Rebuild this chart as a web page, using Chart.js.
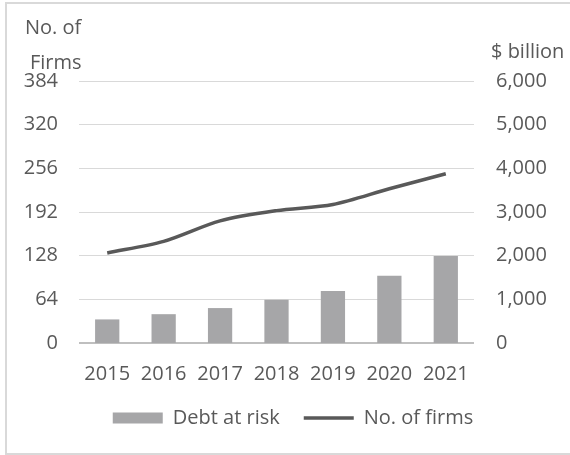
<!DOCTYPE html>
<html lang="en">
<head>
  <meta charset="UTF-8" />
  <title>Debt at risk and number of firms</title>
  <script src="https://cdn.jsdelivr.net/npm/chart.js"></script>
  <style>
    html, body { margin: 0; padding: 0; background: #fff; }
    #wrap { width: 570px; height: 455px; }
  </style>
</head>
<body>
  <div id="wrap"><canvas id="debtChart" width="570" height="455"></canvas></div>

  <script>
    const years = ['2015', '2016', '2017', '2018', '2019', '2020', '2021'];
    const debtAtRisk = [540, 660, 800, 990, 1190, 1540, 1990];   // $ billion
    const numFirms = [132, 149, 179, 194, 203, 226, 248];
    const firmTicks = [0, 64, 128, 192, 256, 320, 384];
    const billionTicks = [0, 1000, 2000, 3000, 4000, 5000, 6000];

    const FONT = "'Open Sans', 'DejaVu Sans', sans-serif";
    const TEXT = '#595959';

    // white background, thin frame and the two axis captions
    const frame = {
      id: 'frame',
      afterLayout(chart) {
        // nudge the legend a little right of centre
        if (chart.legend) {
          chart.legend.left += 8;
          chart.legend.right += 8;
        }
      },
      beforeDraw(chart) {
        const c = chart.ctx;
        c.save();
        c.fillStyle = '#fff';
        c.fillRect(0, 0, chart.width, chart.height);
        c.strokeStyle = '#d9d9d9';
        c.lineWidth = 2;
        c.strokeRect(6, 3, chart.width + 10, 451);
        c.restore();
      },
      afterDraw(chart) {
        const c = chart.ctx;
        c.save();
        c.fillStyle = TEXT;
        c.font = '20px ' + FONT;
        c.textBaseline = 'middle';
        c.textAlign = 'left';
        c.fillText('No. of', 25, 28);
        c.fillText('Firms', 30, 63);
        c.fillText('$ billion', 491, 52);
        c.restore();
      }
    };

    Chart.defaults.font.family = FONT;
    Chart.defaults.font.size = 20;
    Chart.defaults.color = TEXT;

    new Chart(document.getElementById('debtChart'), {
      data: {
        labels: years,
        datasets: [
          {
            type: 'bar',
            label: 'Debt at risk',
            data: debtAtRisk,
            yAxisID: 'y1',
            backgroundColor: '#a6a6a8',
            borderWidth: 0,
            categoryPercentage: 1,
            barPercentage: 0.43,
            pointStyle: 'rect'
          },
          {
            type: 'line',
            label: 'No. of firms',
            data: numFirms,
            yAxisID: 'y',
            borderColor: '#595959',
            backgroundColor: '#595959',
            borderWidth: 3.5,
            tension: 0.3,
            pointRadius: 0,
            pointStyle: 'line'
          }
        ]
      },
      options: {
        responsive: false,
        animation: false,
        devicePixelRatio: 1,
        layout: { padding: { top: 81, left: 0, right: 0, bottom: 17 } },
        plugins: {
          tooltip: { enabled: false },
          legend: {
            position: 'bottom',
            labels: {
              usePointStyle: true,
              pointStyleWidth: 50,
              boxHeight: 11,
              padding: 24,
              color: TEXT,
              font: { size: 20, family: FONT }
            }
          }
        },
        scales: {
          x: {
            grid: { display: false, drawTicks: false },
            border: { display: false },
            ticks: { padding: 19, maxRotation: 0 },
            afterFit(s) { s.height = 41; }
          },
          y: {
            position: 'left',
            min: 0,
            max: 384,
            afterBuildTicks(s) { s.ticks = firmTicks.map(v => ({ value: v })); },
            grid: {
              drawTicks: false,
              color: ctx => ctx.tick && ctx.tick.value === 0 ? '#bfbfbf' : '#d9d9d9',
              lineWidth: ctx => ctx.tick && ctx.tick.value === 0 ? 2 : 1
            },
            border: { display: false },
            ticks: { padding: 21 },
            afterFit(s) { s.width = 79; }
          },
          y1: {
            position: 'right',
            min: 0,
            max: 6000,
            afterBuildTicks(s) { s.ticks = billionTicks.map(v => ({ value: v })); },
            grid: { display: false, drawTicks: false },
            border: { display: false },
            ticks: {
              padding: 22,
              callback: v => v.toLocaleString('en-US')
            },
            afterFit(s) { s.width = 96; }
          }
        }
      },
      plugins: [frame]
    });
  </script>
</body>
</html>
